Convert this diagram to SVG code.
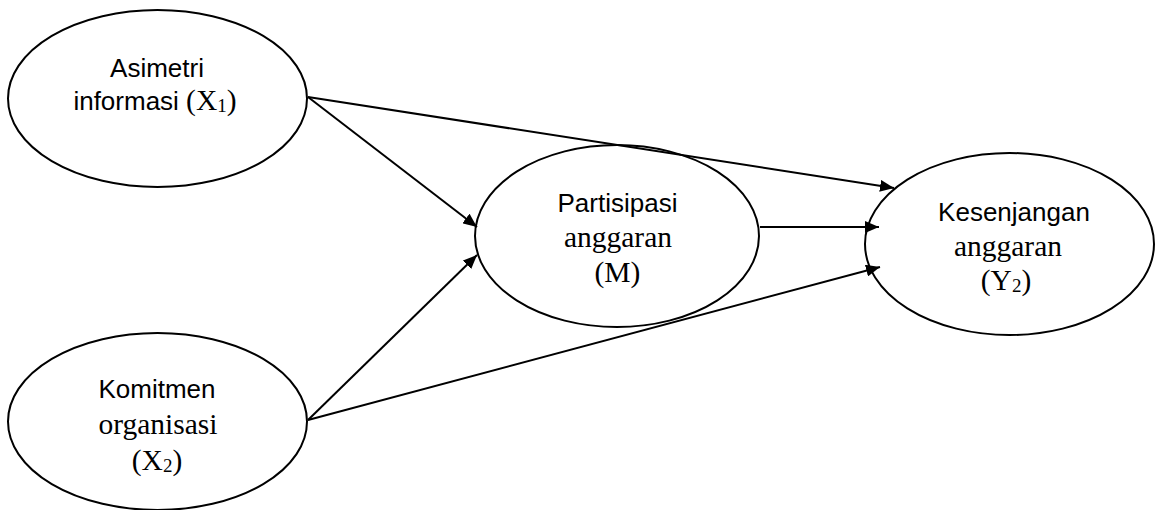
<svg xmlns="http://www.w3.org/2000/svg" width="1155" height="510" viewBox="0 0 1155 510">
<style>
.n{fill:#fff;stroke:#000;stroke-width:2}
.s{font-family:"Liberation Sans",Arial,sans-serif;font-size:26px;fill:#000}
.t{font-family:"Liberation Serif","Times New Roman",serif;font-size:29.5px;fill:#000}
.sub{font-size:19px}
.c line{stroke:#000;stroke-width:2;marker-end:url(#ah)}
</style>
<defs>
<marker id="ah" viewBox="0 0 14 12" refX="14" refY="6" markerWidth="14" markerHeight="12" markerUnits="userSpaceOnUse" orient="auto">
<path d="M0,0 L14,6 L0,12 Z" fill="#000"/>
</marker>
</defs>
<g id="X1">
<ellipse class="n" cx="157.5" cy="98.5" rx="149.5" ry="88.5"/>
<text class="s" x="157" y="77" text-anchor="middle">Asimetri</text>
<text x="155" y="110" text-anchor="middle"><tspan class="s">informasi </tspan><tspan class="t">(X</tspan><tspan class="t sub" dy="2">1</tspan><tspan class="t" dy="-2">)</tspan></text>
</g>
<g id="X2">
<ellipse class="n" cx="157.5" cy="421.5" rx="149.5" ry="88.5"/>
<text class="s" x="157" y="398" text-anchor="middle">Komitmen</text>
<text class="t" x="158" y="434" text-anchor="middle">organisasi</text>
<text x="157" y="470" text-anchor="middle"><tspan class="t">(X</tspan><tspan class="t sub" dy="2">2</tspan><tspan class="t" dy="-2">)</tspan></text>
</g>
<g id="M">
<ellipse class="n" cx="617" cy="236" rx="142" ry="91"/>
<text class="s" x="617.5" y="212" text-anchor="middle">Partisipasi</text>
<text class="t" x="618" y="247" text-anchor="middle">anggaran</text>
<text class="t" x="617.5" y="282" text-anchor="middle">(M)</text>
</g>
<g id="Y2">
<ellipse class="n" cx="1009.5" cy="244" rx="144.5" ry="91"/>
<text class="s" x="1014" y="221" text-anchor="middle">Kesenjangan</text>
<text class="t" x="1008" y="256" text-anchor="middle">anggaran</text>
<text x="1006" y="290" text-anchor="middle"><tspan class="t">(Y</tspan><tspan class="t sub" dy="2">2</tspan><tspan class="t" dy="-2">)</tspan></text>
</g>
<g id="connectors" class="c">
<line x1="308" y1="97" x2="894" y2="188"/>
<line x1="308" y1="97" x2="477" y2="227"/>
<line x1="308" y1="420" x2="477" y2="255"/>
<line x1="308" y1="420" x2="880" y2="267"/>
<line x1="760" y1="227" x2="879" y2="227"/>
</g>
</svg>
